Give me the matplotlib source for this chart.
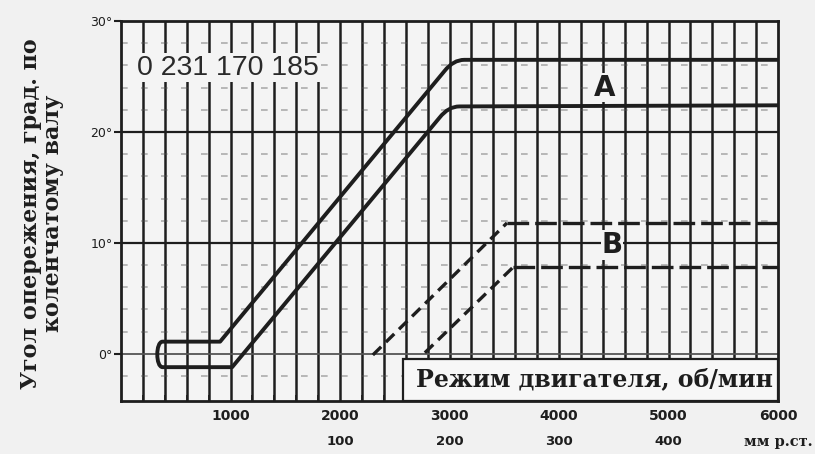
import numpy as np
import matplotlib.pyplot as plt
from matplotlib.path import Path
from matplotlib.patches import PathPatch, Rectangle

# Data
rpm_ticks = [1000, 2000, 3000, 4000, 5000, 6000]
mm_ticks = [100, 200, 300, 400]
deg_ticks = [0, 10, 20, 30]
deg_labels = ["0°", "10°", "20°", "30°"]

# curve A: one continuous line (upper plateau -> loop -> lower plateau)
a_x = [6000, 3135, 3035, 2955, 905, 380, 315, 315, 380, 1015, 2910, 2990, 3090, 6000]
a_y = [26.5, 26.5, 26.5, 25.5, 1.1, 1.1, 1.1, -1.2, -1.2, -1.2, 21.3, 22.3, 22.3, 22.4]
a_codes = [Path.MOVETO, Path.LINETO, Path.CURVE3, Path.CURVE3, Path.LINETO, Path.LINETO,
           Path.CURVE4, Path.CURVE4, Path.CURVE4, Path.LINETO, Path.LINETO,
           Path.CURVE3, Path.CURVE3, Path.LINETO]

# curve B (dashed)
b_up_x = [2300, 3525, 6000]
b_up_y = [-0.1, 11.8, 11.8]
b_lo_x = [2775, 3580, 6000]
b_lo_y = [0.1, 7.8, 7.8]

BG = "#f1f1f1"
INK = "#1e1e1e"

fig = plt.figure(figsize=(8.15, 4.54), dpi=100, facecolor=BG)
ax = fig.add_axes([121 / 815, 53 / 454, 657 / 815, 380 / 454])
ax.set_facecolor("#f4f4f4")
ax.set_xlim(0, 6000)
ax.set_ylim(-4.25, 30)

# grid
ax.vlines(np.arange(200, 6000, 200), -4.25, 30, color=INK, lw=1.8, zorder=1)
for d in [-2, 2, 4, 6, 8, 12, 14, 16, 18, 22, 24, 26, 28]:
    ax.axhline(d, color="#555555", lw=1.2, dashes=(4, 8), alpha=0.45, zorder=1)
ax.axhline(10, color=INK, lw=1.6, zorder=1)
ax.axhline(20, color=INK, lw=1.6, zorder=1)
ax.axhline(0, color="#555555", lw=1.3, zorder=1)

# text box at bottom right
ax.add_patch(Rectangle((2575, -4.25), 3425, 3.75, facecolor="#f7f7f7",
                       edgecolor=INK, lw=1.6, zorder=3))
ax.text(4325, -2.3, "Режим двигателя, об/мин", fontsize=17, fontweight="bold",
        family="DejaVu Serif", color=INK, ha="center", va="center", zorder=4)

# curves
path = Path(list(zip(a_x, a_y)), a_codes)
ax.add_patch(PathPatch(path, fill=False, edgecolor=INK, lw=2.8,
                       joinstyle="round", capstyle="round", zorder=5))
for xs, ys in [(b_up_x, b_up_y), (b_lo_x, b_lo_y)]:
    ax.plot(xs[:2], ys[:2], color=INK, lw=2.4, dashes=(3.5, 2), zorder=5)
    ax.plot(xs[1:], ys[1:], color=INK, lw=2.4, dashes=(6.5, 1.8), zorder=5)

# labels inside plot
ax.text(977, 25.8, "0 231 170 185", fontsize=20.5, family="Liberation Sans",
        color="#2a2a2a", ha="center", va="center", zorder=6,
        bbox=dict(facecolor="#f4f4f4", edgecolor="none", pad=1))
ax.text(4420, 24.0, "A", fontsize=20, fontweight="bold", color=INK,
        ha="center", va="center", zorder=6,
        bbox=dict(facecolor="#f4f4f4", edgecolor="none", pad=0.5))
ax.text(4484, 9.8, "B", fontsize=20, fontweight="bold", color=INK,
        ha="center", va="center", zorder=6,
        bbox=dict(facecolor="#f4f4f4", edgecolor="none", pad=0.5))

# axes styling
for s in ax.spines.values():
    s.set_linewidth(2)
    s.set_color(INK)
    s.set_zorder(7)

ax.set_xticks(rpm_ticks)
ax.set_xticklabels([str(v) for v in rpm_ticks], fontsize=10, fontweight="bold", color=INK)
ax.set_xticks(np.arange(200, 6000, 200), minor=True)
ax.tick_params(axis="x", which="major", length=0, pad=6)
ax.tick_params(axis="x", which="minor", direction="in", length=4, width=1.3, color=INK)

ax.set_yticks(deg_ticks)
ax.set_yticklabels(deg_labels, fontsize=9, color=INK)
ax.tick_params(axis="y", length=5, width=1.5, color=INK, pad=1)

# pressure scale (mm Hg) under rpm scale: 100 mm at 2000 rpm, 10 rpm per mm
for mm in mm_ticks:
    ax.text(1000 + 10 * mm, -0.107, str(mm), transform=ax.get_xaxis_transform(),
            fontsize=9.5, fontweight="bold", color=INK, ha="center", va="center")
fig.text(813 / 815, 12 / 454, "мм р.ст.", fontsize=10.5, fontweight="bold", family="DejaVu Serif",
         color=INK, ha="right", va="center")

fig.text(42 / 815, 0.53, "Угол опережения, град. по\nколенчатому валу", rotation=90,
         fontsize=16, fontweight="bold", family="DejaVu Serif", color=INK,
         ha="center", va="center", multialignment="center", linespacing=1.05)

fig.savefig("out.png", dpi=100, facecolor=BG)
